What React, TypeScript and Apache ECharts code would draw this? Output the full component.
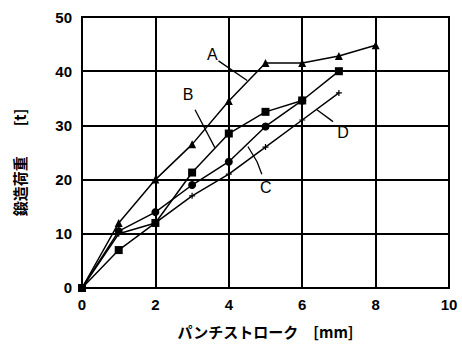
import React, { useEffect, useRef } from "react";
import * as echarts from "echarts";

const xTicks = [0, 2, 4, 6, 8, 10];
const yTicks = [0, 10, 20, 30, 40, 50];

const seriesA: [number, number][] = [[0, 0], [1, 12], [2, 20], [3, 26.5], [4, 34.5], [5, 41.5], [6, 41.5], [7, 42.8], [8, 44.8]];
const seriesB: [number, number][] = [[0, 0], [1, 7], [2, 12], [3, 21.3], [4, 28.5], [5, 32.5], [6, 34.6], [7, 40]];
const seriesC: [number, number][] = [[0, 0], [1, 10.5], [2, 14], [3, 19], [4, 23.3], [5, 29.8], [6, 34.6]];
const seriesD: [number, number][] = [[0, 0], [1, 10], [2, 12], [3, 17], [4, 21], [5, 26], [6, 31], [7, 36]];

const seriesNames = ["A", "B", "C", "D"];

// annotation anchors in data coordinates
const labelPos: [number, number][] = [[3.55, 43.0], [2.89, 35.7], [5.01, 18.6], [7.11, 28.7]];
const leaders: [number, number][][] = [
  [[3.72, 41.9], [4.5, 38.3]],
  [[3.08, 32.9], [3.62, 25.9]],
  [[4.9, 21.0], [4.77, 23.3], [4.52, 26.1]],
  [[6.4, 32.9], [6.84, 30.7]],
];

const xName = "パンチストローク　[mm]";
const yName = "鍛造荷重　　[t]";

const FONT = "'Liberation Sans', Arial, sans-serif";
const plusPath = "path://M4,0 L6,0 L6,4 L10,4 L10,6 L6,6 L6,10 L4,10 L4,6 L0,6 L0,4 L4,4 Z";

export default function App() {
  const ref = useRef<HTMLDivElement>(null);
  useEffect(() => {
    if (!ref.current) return;
    const chart = echarts.init(ref.current, null, { renderer: "svg" });
    const mk = (name: string, data: [number, number][], symbol: string, size: number) => ({
      name,
      type: "line",
      data,
      symbol,
      symbolSize: size,
      showSymbol: true,
      lineStyle: { color: "#000", width: 1.5 },
      itemStyle: { color: "#000" },
    });
    chart.setOption({
      animation: false,
      backgroundColor: "#fff",
      grid: { left: 82, right: 13, top: 17, bottom: 55 },
      xAxis: {
        type: "value",
        min: 0,
        max: 10,
        interval: 2,
        name: xName,
        nameLocation: "middle",
        nameGap: 36,
        nameTextStyle: { fontFamily: "'Noto Sans CJK JP', sans-serif", fontSize: 15, fontWeight: "bold", color: "#000" },
        axisLine: { lineStyle: { color: "#000", width: 2 } },
        axisTick: { show: false },
        axisLabel: { color: "#000", fontFamily: FONT, fontSize: 15, fontWeight: "bold", margin: 9, formatter: (v: number) => (xTicks.includes(v) ? String(v) : "") },
        splitLine: { show: true, lineStyle: { color: "#000", width: 2 } },
      },
      yAxis: {
        type: "value",
        min: 0,
        max: 50,
        interval: 10,
        name: yName,
        nameLocation: "middle",
        nameGap: 55,
        nameTextStyle: { fontFamily: "'Noto Sans CJK JP', sans-serif", fontSize: 15, fontWeight: "bold", color: "#000", padding: [0, 20, 0, 0] },
        axisLine: { show: true, lineStyle: { color: "#000", width: 2 } },
        axisTick: { show: false },
        axisLabel: { color: "#000", fontFamily: FONT, fontSize: 15, fontWeight: "bold", margin: 10, formatter: (v: number) => (yTicks.includes(v) ? String(v) : "") },
        splitLine: { show: true, lineStyle: { color: "#000", width: 1.8 } },
      },
      series: [
        mk(seriesNames[0], seriesA, "triangle", 8),
        mk(seriesNames[1], seriesB, "rect", 8),
        mk(seriesNames[2], seriesC, "circle", 8),
        mk(seriesNames[3], seriesD, plusPath, 6),
      ],
    });
    const tl = chart.convertToPixel({ gridIndex: 0 }, [0, 50]) as number[];
    const br = chart.convertToPixel({ gridIndex: 0 }, [10, 0]) as number[];
    const graphics: any[] = [
      { type: "rect", shape: { x: tl[0], y: tl[1], width: br[0] - tl[0], height: br[1] - tl[1] }, style: { fill: "none", stroke: "#000", lineWidth: 2 }, silent: true },
    ];
    labelPos.forEach((p, i) => {
      const px = chart.convertToPixel({ gridIndex: 0 }, p) as number[];
      graphics.push({
        type: "text",
        x: px[0],
        y: px[1],
        style: { text: seriesNames[i], fill: "#000", font: `16px ${FONT}`, align: "center", verticalAlign: "middle" },
      });
      const pts = leaders[i].map((q) => chart.convertToPixel({ gridIndex: 0 }, q) as number[]);
      graphics.push({ type: "polyline", shape: { points: pts }, style: { stroke: "#000", lineWidth: 1.3, fill: "none" } });
    });
    chart.setOption({ graphic: graphics });
    return () => chart.dispose();
  }, []);
  return <div ref={ref} style={{ width: 462, height: 344, position: "absolute", left: 0, top: 0 }} />;
}
